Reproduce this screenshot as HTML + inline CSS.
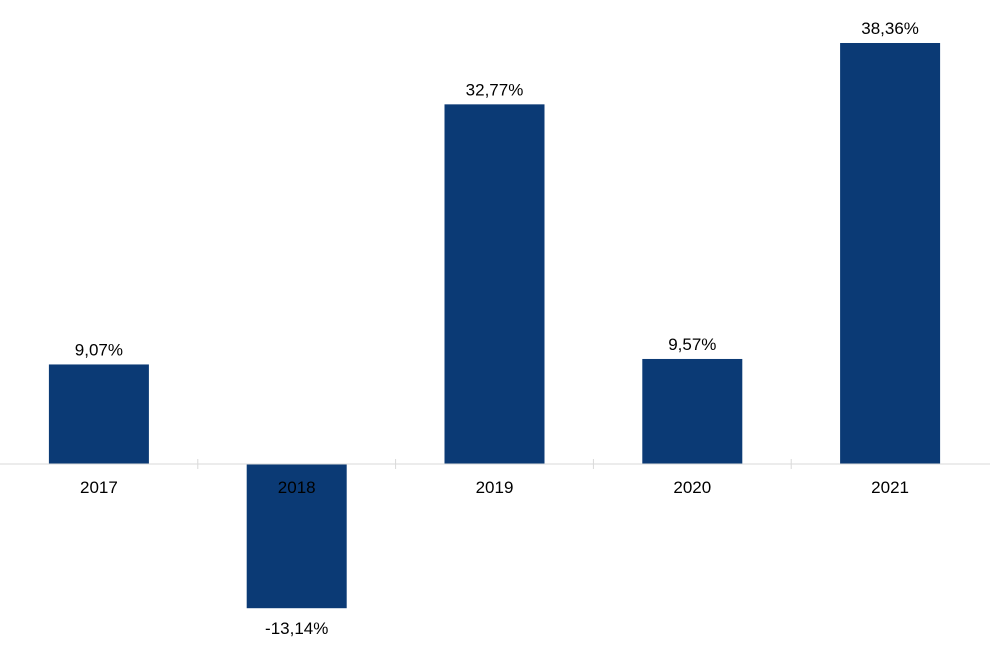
<!DOCTYPE html>
<html><head><meta charset="utf-8"><style>
html,body{margin:0;padding:0;background:#fff;}
svg{display:block;font-family:"Liberation Sans",Arial,sans-serif;}
</style></head><body>
<svg id="chart" width="990" height="650" viewBox="0 0 990 650"></svg>
<script>
const categories = ["2017","2018","2019","2020","2021"];
const values = [9.07, -13.14, 32.77, 9.57, 38.36];
const valueLabels = ["9,07%","-13,14%","32,77%","9,57%","38,36%"];

const svg = document.getElementById('chart');
const NS = 'http://www.w3.org/2000/svg';
const baseY = 464, pxPerUnit = 10.975, slotW = 197.8, left = 0, barW = 100;
const y = v => baseY - v * pxPerUnit;
const xc = i => left + slotW * (i + 0.5);

function mk(tag, attrs){ const e = document.createElementNS(NS, tag); for (const k in attrs) e.setAttribute(k, attrs[k]); svg.appendChild(e); return e; }

categories.forEach((c, i) => {
  const v = values[i];
  const top = Math.min(y(v), baseY), h = Math.abs(y(v) - baseY);
  const r = mk('rect', {x: xc(i) - barW/2, y: top, width: barW, height: h, fill: '#0b3a75'});
  
  
  const ly = v >= 0 ? y(v) - 9 : y(v) + 26;
  const t = mk('text', {x: xc(i), y: ly, 'text-anchor': 'middle', 'font-size': '17', fill: '#000'});
  t.textContent = valueLabels[i];
  
  
});

const axis = mk('line', {x1: 0, x2: 990, y1: baseY, y2: baseY, stroke: '#d9d9d9', 'stroke-width': 1});


for (let i = 1; i < categories.length; i++) {
  const tk = mk('line', {x1: left + slotW*i, x2: left + slotW*i, y1: baseY - 5, y2: baseY + 5, stroke: '#d9d9d9', 'stroke-width': 1});
  
  
}
categories.forEach((c, i) => {
  const t = mk('text', {x: xc(i), y: baseY + 29, 'text-anchor': 'middle', 'font-size': '17', fill: '#000'});
  t.textContent = c;
  
  
});
</script>
</body></html>
